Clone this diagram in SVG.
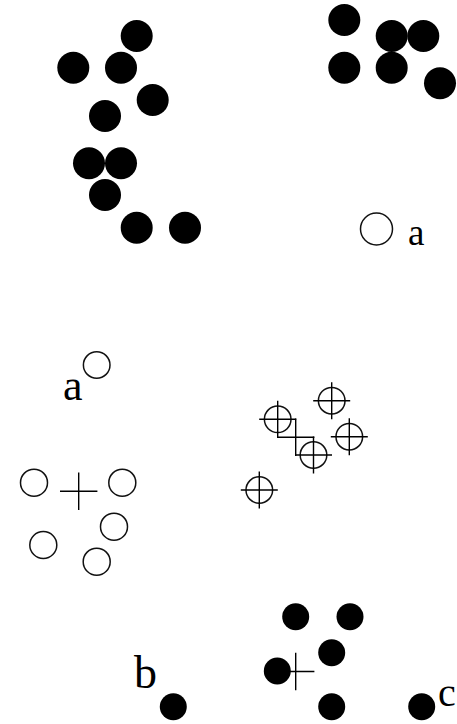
<svg xmlns="http://www.w3.org/2000/svg" width="457" height="724" viewBox="0 0 457 724">
<style>
.f{fill:#000}
.o{fill:none;stroke:#111;stroke-width:1.5}
.x{stroke:#000;stroke-width:1.4;fill:none}
.t{font-family:"Liberation Serif","Times New Roman",serif;fill:#000}
</style>
<defs>
<g id="ch"><circle r="13.3" class="o"/><path d="M-18.5 0H18.5M0 -18.5V18.5" class="x"/></g>
<path id="pl" d="M-18.7 0H18.7M0 -18.7V18.7" class="x"/>
</defs>
<rect width="457" height="724" fill="#fff"/>
<g id="cluster-top-left">
<circle class="f" cx="136.7" cy="36" r="16"/>
<circle class="f" cx="73.3" cy="67.7" r="16"/>
<circle class="f" cx="121" cy="67.7" r="16"/>
<circle class="f" cx="152.7" cy="100" r="16"/>
<circle class="f" cx="105" cy="116" r="16"/>
<circle class="f" cx="89" cy="163.3" r="16"/>
<circle class="f" cx="121" cy="163.3" r="16"/>
<circle class="f" cx="105" cy="195" r="16"/>
<circle class="f" cx="136.7" cy="227.7" r="16"/>
<circle class="f" cx="185" cy="227.7" r="16"/>
</g>
<g id="cluster-top-right">
<circle class="f" cx="344.3" cy="20" r="16"/>
<circle class="f" cx="391.7" cy="36" r="16"/>
<circle class="f" cx="423.3" cy="36" r="16"/>
<circle class="f" cx="344.3" cy="67.7" r="16"/>
<circle class="f" cx="391.7" cy="67.7" r="16"/>
<circle class="f" cx="440" cy="83.3" r="16"/>
</g>
<g id="point-a-top">
<circle class="o" cx="376.5" cy="229" r="16"/>
<text class="t" x="408" y="245" font-size="37">a</text>
</g>
<g id="point-a-mid">
<circle class="o" cx="96.7" cy="365" r="13.3"/>
<text class="t" x="63" y="400" font-size="44">a</text>
</g>
<g id="cluster-open">
<circle class="o" cx="34" cy="482.7" r="13.5"/>
<circle class="o" cx="122.3" cy="482.7" r="13.5"/>
<circle class="o" cx="114" cy="526.7" r="13.5"/>
<circle class="o" cx="43.3" cy="545" r="13.5"/>
<circle class="o" cx="96.7" cy="561.7" r="13.5"/>
<use href="#pl" x="78.7" y="491.3"/>
</g>
<g id="cluster-cross">
<use href="#ch" x="277.7" y="419.3"/>
<use href="#pl" x="295.7" y="437.3"/>
<use href="#ch" x="313.5" y="455"/>
<use href="#ch" x="331.7" y="400.7"/>
<use href="#ch" x="349.3" y="436.7"/>
<use href="#ch" x="259.3" y="490"/>
</g>
<g id="cluster-bottom">
<circle class="f" cx="295.7" cy="616.7" r="13.5"/>
<circle class="f" cx="350" cy="616.7" r="13.5"/>
<circle class="f" cx="331.7" cy="652.7" r="13.5"/>
<circle class="f" cx="277.3" cy="671" r="13.5"/>
<circle class="f" cx="331.7" cy="706.7" r="13.5"/>
<use href="#pl" x="295.7" y="671.5"/>
</g>
<g id="point-b">
<circle class="f" cx="173.3" cy="706.7" r="13.5"/>
<text class="t" x="134" y="688" font-size="46">b</text>
</g>
<g id="point-c">
<circle class="f" cx="421.7" cy="706.7" r="13.5"/>
<text class="t" x="438" y="706" font-size="40">c</text>
</g>
</svg>
